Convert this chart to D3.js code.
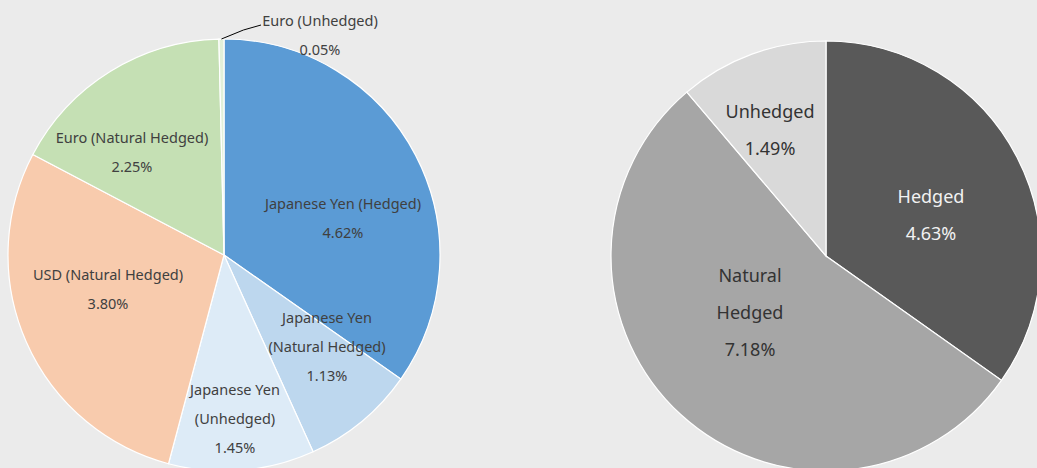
<!DOCTYPE html>
<html>
<head>
<meta charset="utf-8">
<script src="https://cdn.jsdelivr.net/npm/d3@7"></script>
<style>
html,body{margin:0;padding:0;background:#ebebeb;overflow:hidden;}
svg{display:block;}
text{font-family:"Noto Sans","Open Sans",sans-serif;}
</style>
</head>
<body>
<svg id="chart" width="1037" height="468"></svg>
<script>
// ---- data ----
const leftCategories = [
  ["Japanese Yen (Hedged)"],
  ["Japanese Yen", "(Natural Hedged)"],
  ["Japanese Yen", "(Unhedged)"],
  ["USD (Natural Hedged)"],
  ["Euro (Natural Hedged)"],
  ["Euro (Unhedged)"]
];
const leftValues = [4.62, 1.13, 1.45, 3.80, 2.25, 0.05];
const leftColors = ["#5b9bd5", "#bdd7ee", "#ddebf7", "#f8cbad", "#c5e0b4", "#e2f0d9"];

const rightCategories = [["Hedged"], ["Natural", "Hedged"], ["Unhedged"]];
const rightValues = [4.63, 7.18, 1.49];
const rightColors = ["#595959", "#a6a6a6", "#d9d9d9"];
const rightTextColors = ["#f2f2f2", "#333333", "#333333"];

// ---- layout (label anchors relative to pie centre: first-line baseline) ----
const leftLabelPos = [[119,-46],[103,68],[11,140],[-116,25],[-92,-112],[96,-229]];
const rightLabelPos = [[105,-53],[-76,26],[-56,-138]];

const svg = d3.select("#chart");
const fmt = v => v.toFixed(2) + "%";

function drawPie(cx, cy, r, cats, vals, colors, textColors, labelPos, fs, lh) {
  const g = svg.append("g").attr("transform", `translate(${cx},${cy})`);
  const pie = d3.pie().sort(null).value(d => d)(vals);
  const arc = d3.arc().innerRadius(0).outerRadius(r);
  g.selectAll("path.slice").data(pie).enter().append("path")
    .attr("d", arc)
    .attr("fill", (d, i) => colors[i])
    .attr("stroke", "#ffffff")
    .attr("stroke-width", 1.2);
  pie.forEach((d, i) => {
    const lines = cats[i].concat([fmt(vals[i])]);
    const t = g.append("text")
      .attr("text-anchor", "middle")
      .attr("font-size", fs)
      .attr("fill", textColors ? textColors[i] : "#404040");
    lines.forEach((ln, k) => {
      t.append("tspan").attr("x", labelPos[i][0]).attr("y", labelPos[i][1] + k * lh).text(ln);
    });
  });
  return {g, pie, arc};
}

const L = drawPie(224, 255, 216, leftCategories, leftValues, leftColors, null, leftLabelPos, 14.5, 29);
// leader line for the tiny Euro (Unhedged) slice
(function(){
  const d = L.pie[5];
  const a = (d.startAngle + d.endAngle) / 2;
  const r = 216;
  const p0 = [Math.sin(a) * r, -Math.cos(a) * r];
  L.g.append("polyline")
    .attr("points", [p0, [p0[0] + 22, p0[1] - 9], [37, -230]].map(p => p.join(",")).join(" "))
    .attr("fill", "none").attr("stroke", "#000").attr("stroke-width", 1);
})();

drawPie(826, 256, 215, rightCategories, rightValues, rightColors, rightTextColors, rightLabelPos, 18, 37);
</script>
</body>
</html>
